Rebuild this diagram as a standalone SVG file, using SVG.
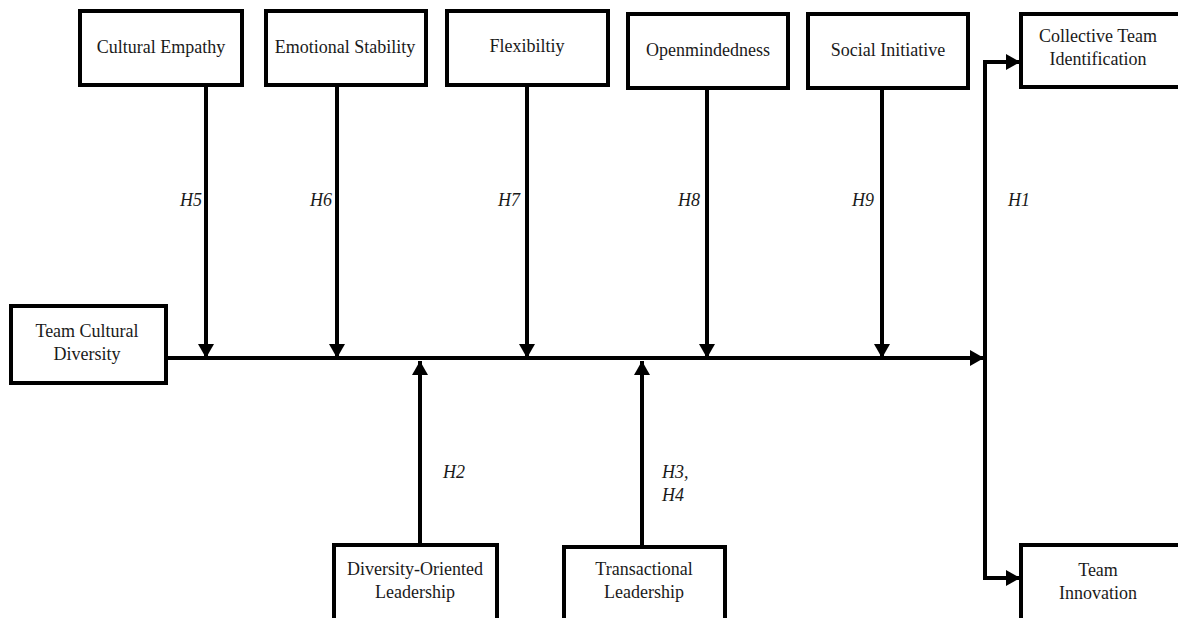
<svg xmlns="http://www.w3.org/2000/svg" width="1178" height="618" viewBox="0 0 1178 618">
<style>
.box{fill:#fff;stroke:#000;stroke-width:4}
.t{font-family:'Liberation Serif','Times New Roman',serif;font-size:18px;fill:#1a1a1a;text-anchor:middle}
.h{font-family:'Liberation Serif','Times New Roman',serif;font-size:18px;font-style:italic;fill:#1a1a1a}
.ln{fill:none;stroke:#000;stroke-width:4}
</style>
<defs>
<marker id="ah" markerUnits="userSpaceOnUse" markerWidth="18" markerHeight="18" viewBox="0 0 18 18" refX="16" refY="9" orient="auto">
<path d="M2,1 L16,9 L2,17 Z" fill="#000"/>
</marker>
</defs>
<rect width="1178" height="618" fill="#fff"/>
<g id="connectors">
<line class="ln" x1="167" y1="358" x2="984" y2="358" marker-end="url(#ah)"/>
<line class="ln" x1="206" y1="85" x2="206" y2="358" marker-end="url(#ah)"/>
<line class="ln" x1="337" y1="85" x2="337" y2="358" marker-end="url(#ah)"/>
<line class="ln" x1="527" y1="85" x2="527" y2="358" marker-end="url(#ah)"/>
<line class="ln" x1="707" y1="88" x2="707" y2="358" marker-end="url(#ah)"/>
<line class="ln" x1="882" y1="88" x2="882" y2="358" marker-end="url(#ah)"/>
<line class="ln" x1="420" y1="545" x2="420" y2="361" marker-end="url(#ah)"/>
<line class="ln" x1="642" y1="547" x2="642" y2="361" marker-end="url(#ah)"/>
<polyline class="ln" points="985,578 985,62 1020,62" marker-end="url(#ah)"/>
<polyline class="ln" points="985,360 985,578 1020,578" marker-end="url(#ah)"/>
<text class="h" x="180" y="206">H5</text>
<text class="h" x="310" y="206">H6</text>
<text class="h" x="498" y="206">H7</text>
<text class="h" x="678" y="206">H8</text>
<text class="h" x="852" y="206">H9</text>
<text class="h" x="1008" y="206">H1</text>
<text class="h" x="443" y="478">H2</text>
<text class="h" x="662" y="478">H3,</text>
<text class="h" x="662" y="501">H4</text>
</g>
<g id="n-cultural-empathy"><rect class="box" x="80" y="11" width="162" height="74"/><text class="t" x="161" y="53">Cultural Empathy</text></g>
<g id="n-emotional-stability"><rect class="box" x="266" y="11" width="160" height="74"/><text class="t" x="345" y="53">Emotional Stability</text></g>
<g id="n-flexibility"><rect class="box" x="447" y="11" width="161" height="74"/><text class="t" x="527" y="52">Flexibiltiy</text></g>
<g id="n-openmindedness"><rect class="box" x="628" y="14" width="160" height="74"/><text class="t" x="708" y="56">Openmindedness</text></g>
<g id="n-social-initiative"><rect class="box" x="808" y="14" width="160" height="74"/><text class="t" x="888" y="56">Social Initiative</text></g>
<g id="n-collective-team-identification"><rect class="box" x="1021" y="14" width="180" height="73"/><text class="t" x="1098" y="42">Collective Team</text><text class="t" x="1098" y="65">Identification</text></g>
<g id="n-team-cultural-diversity"><rect class="box" x="11" y="306" width="155" height="77"/><text class="t" x="87" y="337">Team Cultural</text><text class="t" x="87" y="360">Diversity</text></g>
<g id="n-diversity-oriented-leadership"><rect class="box" x="334" y="545" width="163" height="90"/><text class="t" x="415" y="575">Diversity-Oriented</text><text class="t" x="415" y="598">Leadership</text></g>
<g id="n-transactional-leadership"><rect class="box" x="564" y="547" width="161" height="90"/><text class="t" x="644" y="575">Transactional</text><text class="t" x="644" y="598">Leadership</text></g>
<g id="n-team-innovation"><rect class="box" x="1021" y="545" width="180" height="90"/><text class="t" x="1098" y="576">Team</text><text class="t" x="1098" y="599">Innovation</text></g>
</svg>
